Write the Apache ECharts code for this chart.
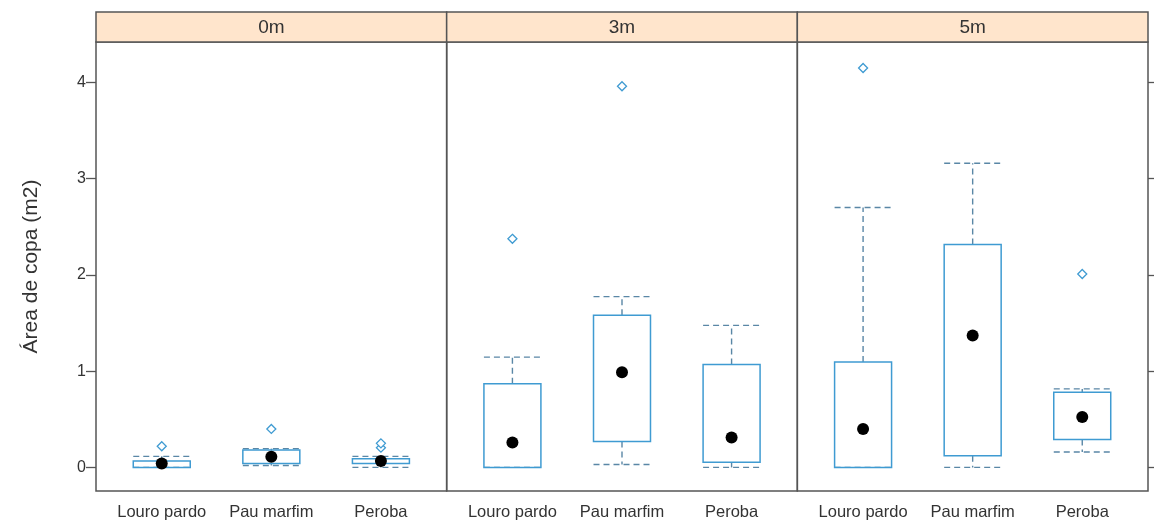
<!DOCTYPE html>
<html>
<head>
<meta charset="utf-8">
<script src="https://cdn.jsdelivr.net/npm/echarts@6/dist/echarts.min.js"></script>
<style>
html,body{margin:0;padding:0;background:#fff;}
#chart{width:1155px;height:532px;}
</style>
</head>
<body>
<div id="chart"></div>
<script>
// ---- data ----
const categories = ['Louro pardo', 'Pau marfim', 'Peroba'];
const panels = ['0m', '3m', '5m'];
const yTicks = [0, 1, 2, 3, 4];
const yAxisName = 'Área de copa (m2)';
// [lower whisker, Q1, median, Q3, upper whisker] for each category
const stats0m = [[0, 0, 0.04, 0.066, 0.115], [0.02, 0.04, 0.11, 0.18, 0.195], [0, 0.04, 0.066, 0.09, 0.115]];
const stats3m = [[0, 0, 0.26, 0.87, 1.146], [0.03, 0.27, 0.99, 1.58, 1.774], [0, 0.055, 0.31, 1.07, 1.476]];
const stats5m = [[0, 0, 0.40, 1.094, 2.70], [0, 0.12, 1.37, 2.316, 3.16], [0.16, 0.29, 0.525, 0.78, 0.816]];
// outliers: [category index (1-based), value]
const outliers0m = [[1, 0.22], [2, 0.40], [3, 0.205], [3, 0.25]];
const outliers3m = [[1, 2.375], [2, 3.96]];
const outliers5m = [[1, 4.15], [3, 2.01]];

const allStats = [stats0m, stats3m, stats5m];
const allOutliers = [outliers0m, outliers3m, outliers5m];

// ---- layout ----
const L = 96, R = 1148, TOP = 42, BOT = 491, STRIP_TOP = 12;
const PW = (R - L) / 3;
const BOX_BLUE = '#3f9bd2';
const WHISK = '#5a87a6';
const FRAME = '#555555';
const FONT = 'Liberation Sans, Arial, sans-serif';
const YMIN = -0.245, YMAX = 4.42;

const chart = echarts.init(document.getElementById('chart'));

const grids = [], xAxes = [], yAxes = [], series = [], graphics = [];
panels.forEach((p, i) => {
  grids.push({
    left: L + i * PW, width: PW, top: TOP, height: BOT - TOP,
    show: true, borderColor: FRAME, borderWidth: 1.5, backgroundColor: 'transparent'
  });
  xAxes.push({
    type: 'value', gridIndex: i, min: 0.4, max: 3.6,
    axisLine: {show: false}, axisTick: {show: false}, splitLine: {show: false},
    axisLabel: {
      customValues: [1, 2, 3], margin: 13,
      formatter: v => categories[Math.round(v) - 1] || '',
      color: '#333', fontSize: 16.5, fontFamily: FONT
    }
  });
  yAxes.push({
    type: 'value', gridIndex: i, min: YMIN, max: YMAX,
    position: 'left',
    name: i === 0 ? yAxisName : '', nameLocation: 'middle', nameGap: 54,
    nameTextStyle: {color: '#333', fontSize: 21, fontFamily: FONT},
    axisLine: {show: false}, splitLine: {show: false},
    axisTick: {show: i === 0, customValues: yTicks, length: 10, lineStyle: {color: FRAME, width: 1.3}},
    axisLabel: {show: i === 0, customValues: yTicks, margin: 10, color: '#333', fontSize: 16,
      fontFamily: FONT}
  });
  // strip
  graphics.push({
    type: 'rect', z: 10,
    shape: {x: L + i * PW, y: STRIP_TOP, width: PW, height: TOP - STRIP_TOP},
    style: {fill: '#ffe5cc', stroke: FRAME, lineWidth: 1.5}
  });
  graphics.push({
    type: 'text', z: 11,
    x: L + i * PW + PW / 2, y: (STRIP_TOP + TOP) / 2 + 1,
    style: {text: p, fill: '#333', font: '19px "Liberation Sans", Arial, sans-serif',
      textAlign: 'center', textVerticalAlign: 'middle'}
  });

  const boxData = allStats[i].map((s, k) => [k + 1].concat(s));
  series.push({
    type: 'custom', xAxisIndex: i, yAxisIndex: i,
    data: boxData,
    renderItem: (params, api) => {
      const x = api.value(0);
      const lo = api.coord([x, api.value(1)]);
      const q1 = api.coord([x, api.value(2)]);
      const q3 = api.coord([x, api.value(4)]);
      const hi = api.coord([x, api.value(5)]);
      const w = api.size([0.52, 0])[0];
      const cx = lo[0];
      const dash = {stroke: WHISK, lineWidth: 1.4, lineDash: [6, 4]};
      return {
        type: 'group',
        children: [
          {type: 'line', shape: {x1: cx, y1: q3[1], x2: cx, y2: hi[1]}, style: dash},
          {type: 'line', shape: {x1: cx, y1: q1[1], x2: cx, y2: lo[1]}, style: dash},
          {type: 'line', shape: {x1: cx - w / 2, y1: hi[1], x2: cx + w / 2, y2: hi[1]}, style: dash},
          {type: 'line', shape: {x1: cx - w / 2, y1: lo[1], x2: cx + w / 2, y2: lo[1]}, style: dash},
          {type: 'rect', shape: {x: cx - w / 2, y: q3[1], width: w, height: q1[1] - q3[1]},
            style: {fill: 'none', stroke: BOX_BLUE, lineWidth: 1.5}}
        ]
      };
    }
  });
  series.push({
    type: 'scatter', xAxisIndex: i, yAxisIndex: i, z: 5,
    data: allStats[i].map((s, k) => [k + 1, s[2]]),
    symbol: 'circle', symbolSize: 12,
    itemStyle: {color: '#000', opacity: 1}
  });
  series.push({
    type: 'scatter', xAxisIndex: i, yAxisIndex: i, z: 4,
    data: allOutliers[i],
    symbol: 'diamond', symbolSize: 9,
    itemStyle: {color: '#fff', borderColor: BOX_BLUE, borderWidth: 1.3, opacity: 1}
  });
});

// right-side tick marks on last panel
yAxes.push({
  type: 'value', gridIndex: 2, min: YMIN, max: YMAX, position: 'right',
  axisLine: {show: false}, splitLine: {show: false}, axisLabel: {show: false},
  axisTick: {show: true, customValues: yTicks, length: 6, lineStyle: {color: FRAME, width: 1.3}}
});

chart.setOption({
  animation: false,
  backgroundColor: '#fff',
  grid: grids,
  xAxis: xAxes,
  yAxis: yAxes,
  series: series,
  graphic: graphics
});
</script>
</body>
</html>
